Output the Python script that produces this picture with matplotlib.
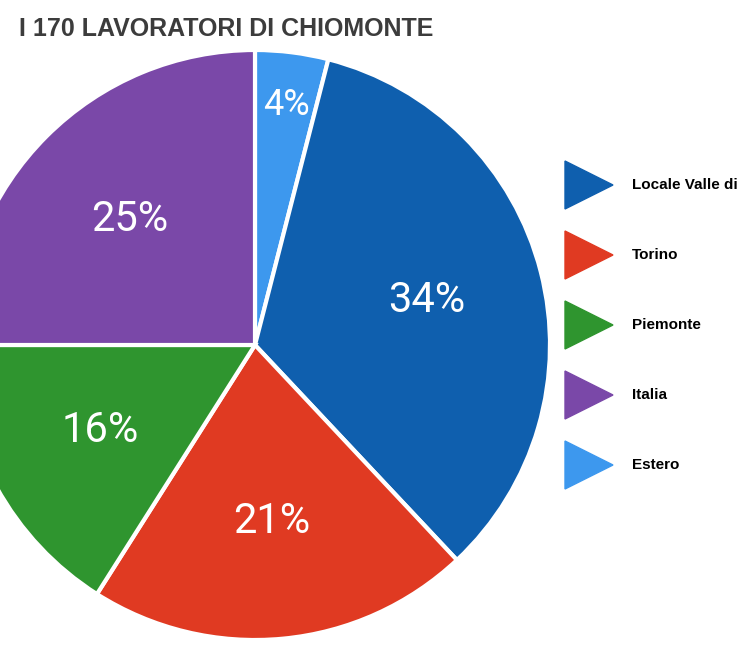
import matplotlib.pyplot as plt
from matplotlib.patches import Polygon

title = "I 170 LAVORATORI DI CHIOMONTE"
# clockwise order from 12 o'clock
labels = ["Estero", "Locale Valle di", "Torino", "Piemonte", "Italia"]
shares = [4, 34, 21, 16, 25]
colors = ["#3d98ee", "#0f5fae", "#e03a22", "#2f952f", "#7a48a8"]

legend_order = ["Locale Valle di", "Torino", "Piemonte", "Italia", "Estero"]

fig = plt.figure(figsize=(7.5, 6.5), dpi=100)
ax = fig.add_axes([0, 0, 1, 1])
ax.set_xlim(0, 750)
ax.set_ylim(0, 650)
ax.set_aspect("equal")
ax.axis("off")

wedges, texts = ax.pie(shares, colors=colors, startangle=90, counterclock=False,
                       center=(255, 305), radius=295,
                       labels=[f"{s}%" for s in shares], labeldistance=0.6,
                       wedgeprops=dict(edgecolor="white", linewidth=3),
                       textprops=dict(color="white", fontsize=30, family="Roboto",
                                      fontstretch="condensed", ha="center", va="center"))
# small slice: label sits near the rim
texts[0].set_position((286, 545))
texts[0].set_fontsize(26)
ax.set_xlim(0, 750)
ax.set_ylim(0, 650)

fig.text(0.025, 0.955, title, fontsize=18, fontweight="bold", color="#3c3c3c",
         family="Liberation Sans", va="center")

color_of = dict(zip(labels, colors))
for i, name in enumerate(legend_order):
    y = 650 - (185 + i * 70)
    tri = Polygon([(565, y + 24), (565, y - 24), (613, y)], closed=True,
                  color=color_of[name])
    ax.add_patch(tri)
    ax.text(632, y, name, fontsize=11, fontweight="bold", family="Liberation Sans",
            va="center", ha="left", color="black", clip_on=False)

fig.savefig("out.png", dpi=100)
